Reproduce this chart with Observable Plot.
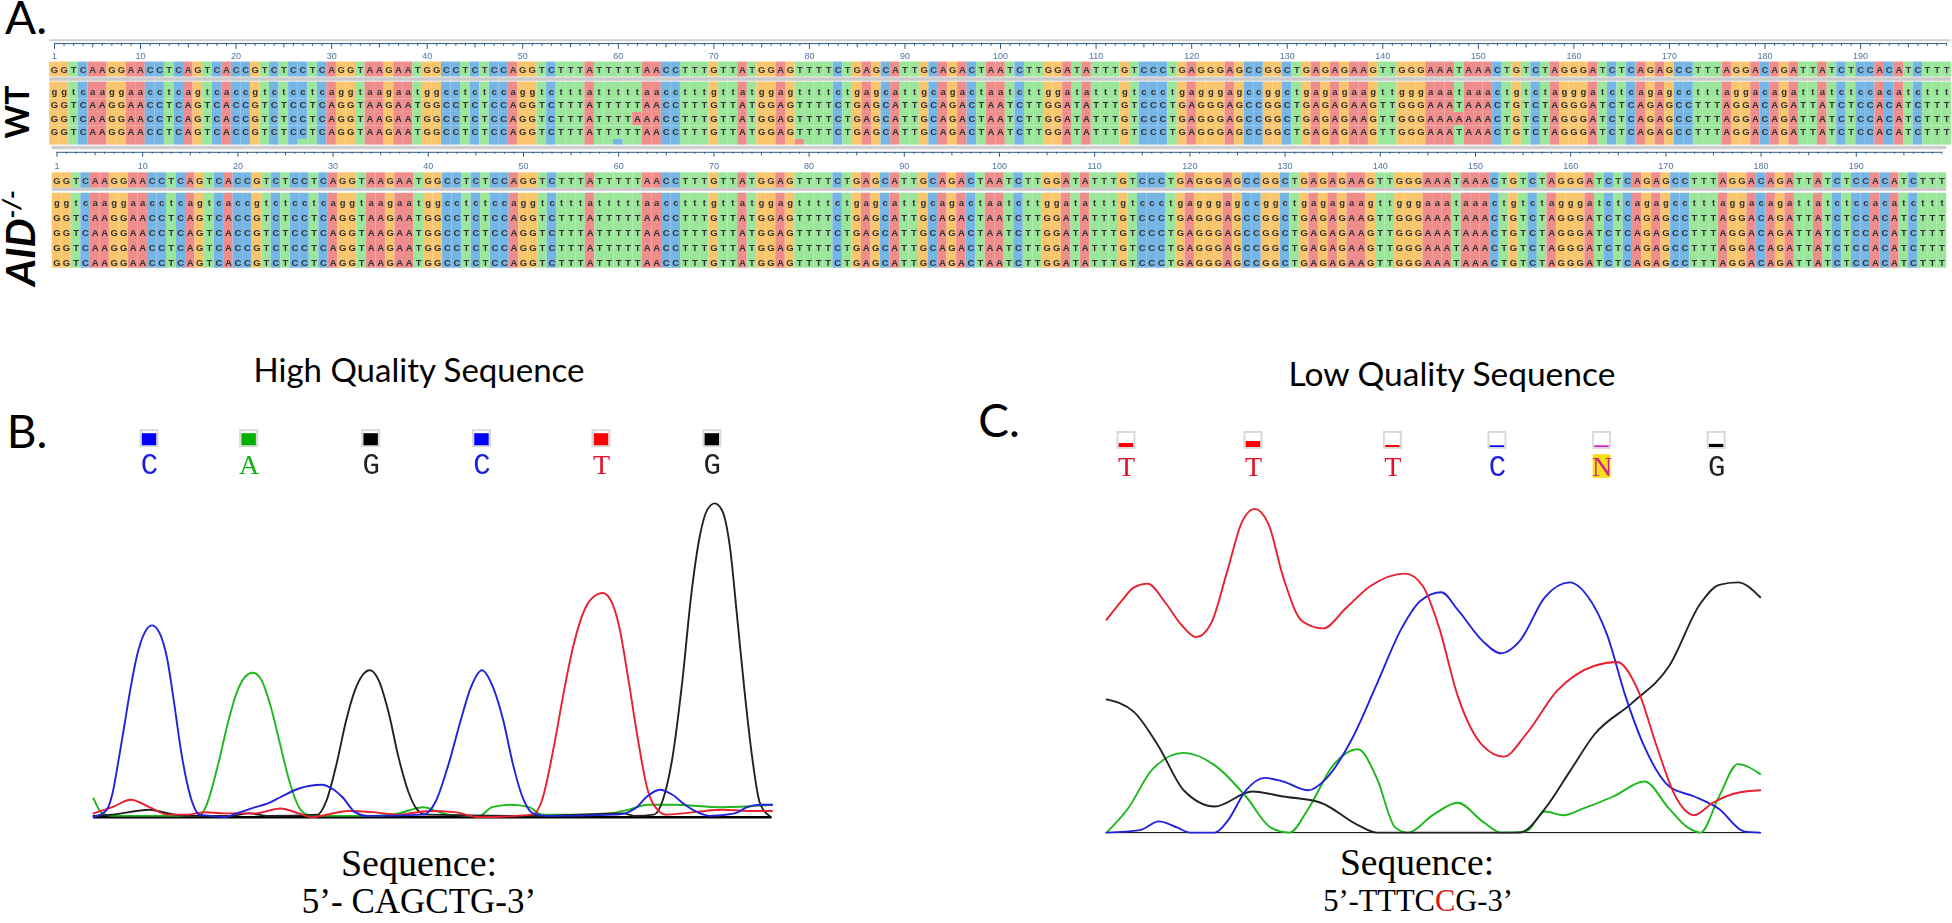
<!DOCTYPE html>
<html><head><meta charset="utf-8">
<style>
html,body{margin:0;padding:0;background:#fff;width:1952px;height:923px;overflow:hidden}
#root{position:relative;width:1952px;height:923px}
.plot{position:absolute}
.plot svg{display:block;background:transparent}
.seq svg{filter:blur(.45px)}
.tr svg{filter:blur(.25px)}
.t{position:absolute;white-space:nowrap;transform:translate(-50%,-50%);color:#000;line-height:1}
.cal{font-family:Lato,"Open Sans",sans-serif}
.tnr{font-family:"Liberation Serif",serif}
.rot{transform:translate(-50%,-50%) rotate(-90deg);font-weight:700;font-family:Lato,sans-serif}
</style>
<script src="https://cdn.jsdelivr.net/npm/d3@7"></script>
<script src="https://cdn.jsdelivr.net/npm/@observablehq/plot@0.6"></script>
</head><body><div id="root"></div>
<script>
// ---------- Panel A: alignment ----------
const consensus = "GGTCAAGGAACCTCAGTCACCGTCTCCTCAGGTAAGAATGGCCTCTCCAGGTCTTTATTTTTAACCTTTGTTATGGAGTTTTCTGAGCATTGCAGACTAATCTTGGATATTTGTCCCTGAGGGAGCCGGCTGAGAGAAGTTGGGAAATAAACTGTCTAGGGATCTCAGAGCCTTTAGGACAGATTATCTCCACATCTTT";
const rulerLabels = [1,10,20,30,40,50,60,70,80,90,100,110,120,130,140,150,160,170,180,190];
const baseColors = {A:"#ef8d8d",G:"#f9c66e",T:"#9ce69c",C:"#75b6e6"};
// read, position, base
const wtMismatches = [[2,62,"A"],[2,148,"A"],[4,27,"T"],[4,60,"C"],[4,79,"A"]];
const wtReads = 5, aidReads = 5;

// ---------- Panels B / C: traces as [scan, signal] ----------
const bBlue=[[75,0],[85,5],[90,18],[95,45],[100,75],[105,105],[110,130],[116,148],[122,154],[128,148],[134,128],[140,90],[145,55],[150,28],[155,10],[160,2],[170,1],[180,0],[190,3],[205,8],[215,11],[225,16],[240,23],[258,26],[268,22],[275,16],[285,4],[295,1],[340,2],[350,13],[360,42],[370,78],[378,104],[387,118],[396,104],[404,78],[412,42],[420,15],[428,3],[440,1],[495,2],[510,7],[520,17],[530,22],[540,18],[550,10],[560,4],[570,1],[590,3],[600,8],[610,10],[620,10]];
const bGreen=[[75,15],[82,3],[90,1],[160,1],[165,8],[175,42],[183,76],[190,100],[197,113],[203,116],[210,110],[217,90],[225,58],[232,30],[240,8],[247,2],[260,1],[300,1],[320,3],[340,8],[350,5],[360,2],[385,1],[395,8],[410,10],[425,8],[435,2],[470,2],[490,3],[505,6],[520,10],[540,10],[580,8],[620,10]];
const bBlack=[[75,1],[90,2],[120,6],[135,3],[150,1],[185,1],[200,3],[215,1],[255,2],[262,13],[270,42],[278,78],[285,102],[291,114],[297,118],[304,110],[312,84],[320,48],[328,20],[335,6],[342,2],[430,1],[500,3],[510,1],[525,2],[532,13],[540,48],[548,110],[555,178],[562,226],[568,247],[574,252],[580,246],[586,218],[592,160],[598,100],[604,48],[610,12],[618,1]];
const bRed=[[75,3],[90,8],[105,14],[120,8],[135,2],[150,2],[165,4],[180,3],[205,3],[225,7],[240,3],[250,0],[280,5],[300,4],[320,2],[345,5],[365,4],[385,0],[428,2],[435,13],[445,58],[453,102],[460,136],[470,168],[478,178],[484,180],[490,175],[497,154],[505,108],[512,64],[520,22],[527,7],[535,2],[580,6],[600,5],[620,5]];
const cRed=[[888,171],[900,186],[910,197],[921,200],[935,185],[948,167],[960,157],[972,168],[985,210],[997,250],[1007,260],[1018,248],[1030,205],[1045,170],[1062,164],[1080,180],[1100,198],[1128,208],[1142,198],[1155,165],[1170,110],[1190,70],[1207,61],[1225,79],[1250,114],[1280,134],[1298,137],[1315,114],[1330,69],[1345,29],[1360,14],[1375,24],[1395,32],[1413,34]];
const cBlue=[[888,0],[915,2],[930,9],[945,4],[955,0],[975,0],[985,9],[1000,34],[1015,44],[1030,41],[1050,34],[1065,44],[1085,75],[1105,119],[1125,164],[1140,186],[1157,193],[1170,179],[1190,154],[1205,144],[1220,154],[1240,189],[1260,201],[1275,189],[1290,159],[1305,109],[1320,69],[1340,37],[1360,29],[1380,19],[1400,1],[1413,0]];
const cGreen=[[888,0],[905,19],[925,51],[950,64],[975,54],[1000,29],[1020,4],[1035,0],[1050,19],[1070,54],[1090,67],[1105,44],[1120,4],[1130,0],[1150,14],[1170,24],[1190,9],[1205,0],[1225,1],[1240,17],[1255,14],[1270,19],[1295,29],[1320,41],[1340,19],[1355,4],[1365,0],[1380,29],[1395,55],[1413,47]];
const cBlack=[[888,107],[910,97],[930,69],[950,34],[975,21],[1005,33],[1030,29],[1060,24],[1090,6],[1105,0],[1220,0],[1240,19],[1260,49],[1280,79],[1310,104],[1340,134],[1365,184],[1380,199],[1395,201],[1413,189]];

// calls: scan position, letter, signal quality (fill of the box)
const bCalls=[[120,"C",.85],[200,"A",.85],[298,"G",.85],[387,"C",.85],[483,"T",.85],[572,"G",.85]];
const cCalls=[[904,"T",.28],[1006,"T",.42],[1118,"T",.14],[1202,"C",.12],[1286,"N",.12],[1378,"G",.22]];
const callColors={A:"#10b510",C:"#1d1de0",G:"#222222",T:"#e60f28",N:"#d4208a"};
const barColors={A:"#00b000",C:"#0000ff",G:"#000000",T:"#ff0000",N:"#d020d0"};
const traceColors={blue:"#2222dd",green:"#1cb81c",black:"#222222",red:"#e8202f"};

const root=document.getElementById("root");
function place(svg,left,top,cls){const d=document.createElement("div");d.className="plot "+cls;d.style.left=left+"px";d.style.top=top+"px";d.appendChild(svg);root.appendChild(d);}
function label(html,x,y,size,cls,extra){const d=document.createElement("div");d.className="t "+cls;d.style.left=x+"px";d.style.top=y+"px";d.style.fontSize=size+"px";if(extra)Object.assign(d.style,extra);d.innerHTML=html;root.appendChild(d);}

function block({top,rowH,left,step,nReads,mism,readTop,rowOffset,cons,sep,ruler,lastRowEnd,topLine,topW}){
  const P=consensus.split("").map((b,i)=>({pos:i+1,b}));
  const mm=new Map(mism.map(([r,p,b])=>[r+":"+p,b]));
  const reads=[];
  for(let r=0;r<nReads;r++)for(const d of P){
    const b=mm.get(r+":"+d.pos)||d.b;
    reads.push({pos:d.pos,row:r,b,txt:r===0?b.toLowerCase():b});
  }
  const ticks=d3.range(1,200);
  const tMin=topLine-0.2,tMax=lastRowEnd+0.5;
  const height=(tMax-tMin)*rowH;
  const fr=t=>Math.min(lastRowEnd,Math.max(0,t));
  const rx=d=>d.pos-.5, rx2=d=>d.pos+.5;
  const marks=[
    Plot.ruleY([topLine],{x1:.5,x2:199.5,stroke:"#cfcfcf",strokeWidth:topW}),
    Plot.ruleY([ruler.line],{x1:1,x2:199,stroke:"#2a5a85",strokeWidth:1}),
    Plot.ruleX(ticks,{x:d=>d,y1:ruler.line,y2:d=>(d===1||d%10===0)?ruler.major:(d%5===0?(ruler.major+ruler.minor)/2:ruler.minor),stroke:"#2a5a85",strokeWidth:1}),
    Plot.text(rulerLabels,{x:d=>d,y:ruler.label,text:d=>String(d),fill:"#4f74a3",fontSize:9,fontFamily:"Liberation Sans",textAnchor:"middle",lineAnchor:"middle"}),
    Plot.rect(P,{x1:rx,x2:rx2,y1:cons[0],y2:cons[1],fill:d=>baseColors[d.b]}),
    Plot.text(P,{x:"pos",y:(cons[0]+cons[1])/2,text:"b",fill:"#3d3d3d",fontSize:9.5,fontWeight:700,fontFamily:"Liberation Sans",lineAnchor:"middle"}),
    Plot.rect([0],{x1:.5,x2:199.5,y1:sep[0],y2:sep[1],fill:"#c9c9c9"}),
    Plot.rect(reads,{x1:rx,x2:rx2,y1:d=>fr(d.row===0?0:d.row+readTop),y2:d=>fr(d.row+readTop+1),fill:d=>baseColors[d.b]}),
    Plot.text(reads.filter(d=>d.row+rowOffset<lastRowEnd-.1),{x:"pos",y:d=>d.row+rowOffset,text:"txt",fill:"#333",fontSize:9.5,fontWeight:700,fontFamily:"Liberation Sans",lineAnchor:"middle"})
  ];
  const svg=Plot.plot({width:1952,height,marginLeft:left-step/2,marginRight:1952-(left+198*step+step/2),marginTop:0,marginBottom:0,
    x:{domain:[.5,199.5],axis:null},y:{domain:[tMin,tMax],range:[0,height],axis:null},marks});
  place(svg,0,top+tMin*rowH,"seq");
}
block({top:82,rowH:13.5,left:54,step:9.556,nReads:wtReads,mism:wtMismatches,readTop:.25,rowOffset:.7,cons:[-1.48,-.37],sep:[-.32,-.06],
  ruler:{line:-2.85,major:-2.42,minor:-2.65,label:-1.92},lastRowEnd:4.67,topLine:-3.1,topW:2});
block({top:193,rowH:15,left:56.5,step:9.52,nReads:aidReads,mism:[],readTop:.15,rowOffset:.65,cons:[-1.36,-.33],sep:[-.33,-.13],
  ruler:{line:-2.73,major:-2.4,minor:-2.6,label:-1.8},lastRowEnd:5,topLine:-3.05,topW:3.5});

function trace({x0,x1,px0,px1,baseline,yMax,series,calls,boxY,letterY,ruleW}){
  const k=(px1-px0)/(x1-x0), mL=3,mR=3,mT=3,mB=3;
  const w=(px1-px0)+mL+mR, plotH=yMax*k, h=plotH+mT+mB;
  const data=[];
  for(const [c,arr] of series) for(const [x,y] of arr) data.push({c,x,y});
  const bh=6.4, bw=6.8;
  const isN=calls.filter(d=>d[1]==="N");
  const serif=d=>"ATN".includes(d[1]);
  const marks=[
    Plot.ruleY([0],{x1:x0,x2:x1,stroke:"#000",strokeWidth:ruleW}),
    Plot.line(data,{x:"x",y:"y",z:"c",stroke:d=>traceColors[d.c],strokeWidth:1.9,curve:"monotone-x",strokeLinejoin:"round"}),
    Plot.rect(calls,{x1:d=>d[0]-bw,x2:d=>d[0]+bw,y1:boxY-bh,y2:boxY+bh,fill:"#fff",stroke:"#d9d9d9",strokeWidth:2}),
    Plot.rect(calls,{x1:d=>d[0]-bw+1,x2:d=>d[0]+bw-1,y1:boxY-bh+.7,y2:d=>boxY-bh+.7+(2*bh-1.4)*d[2],fill:d=>barColors[d[1]]}),
    Plot.rect(isN,{x1:d=>d[0]-7.2,x2:d=>d[0]+7.2,y1:letterY-9.5,y2:letterY+9.5,fill:"#f8e017"}),
    Plot.text(calls.filter(d=>!serif(d)),{x:d=>d[0],y:letterY,text:d=>d[1],fill:d=>callColors[d[1]],fontSize:29,fontFamily:"Liberation Mono",lineAnchor:"middle"}),
    Plot.text(calls.filter(serif),{x:d=>d[0],y:letterY,text:d=>d[1],fill:d=>callColors[d[1]],fontSize:28,fontFamily:"Liberation Serif",lineAnchor:"middle"})
  ];
  const svg=Plot.plot({width:w,height:h,marginLeft:mL,marginRight:mR,marginTop:mT,marginBottom:mB,
    x:{domain:[x0,x1],range:[mL,w-mR],axis:null},y:{domain:[0,yMax],range:[h-mB,mT],axis:null},marks});
  place(svg,px0-mL,baseline-plotH-mT,"tr");
}
trace({x0:75,x1:620,px0:93.4,px1:772,baseline:817,yMax:325,boxY:304,letterY:283,ruleW:2.5,calls:bCalls,
  series:[["green",bGreen],["black",bBlack],["red",bRed],["blue",bBlue]]});
trace({x0:888,x1:1413,px0:1105.5,px1:1759.2,baseline:832,yMax:335,boxY:315,letterY:294,ruleW:1,calls:cCalls,
  series:[["green",cGreen],["black",cBlack],["blue",cBlue],["red",cRed]]});

label("A.",26,17,46,"cal");
label("B.",27,431,46,"cal");
label("C.",999,420,46,"cal");
label("High Quality Sequence",419,369,33,"cal");
label("Low Quality Sequence",1452,374,33.5,"cal");
label("Sequence:",419,863,38,"tnr");
label("5’- CAGCTG-3’",419,901,35,"tnr");
label("Sequence:",1417,863,37.5,"tnr");
label('5’-TTTC<span style="color:#d81515">C</span>G-3’',1418,901,30.5,"tnr");
label("WT",17,112,32,"rot");
label('<i>AID<sup style="font-size:25px;line-height:0">-/-</sup></i>',19,238,41,"rot");
</script></body></html>
